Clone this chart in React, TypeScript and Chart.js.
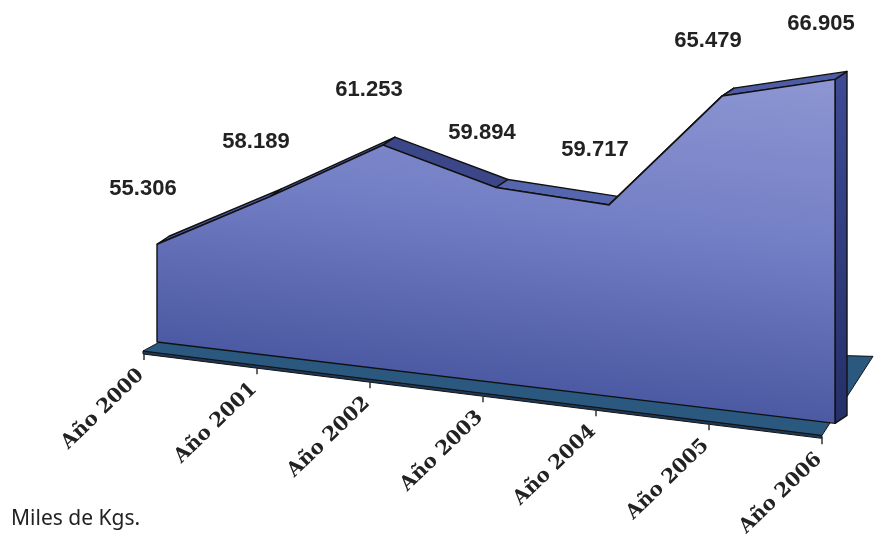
import React, { useEffect, useRef } from "react";
import { Chart, registerables } from "chart.js";

Chart.register(...registerables);

// ---- data ----
const categories = ["Año 2000", "Año 2001", "Año 2002", "Año 2003", "Año 2004", "Año 2005", "Año 2006"];
const production = [55.306, 58.189, 61.253, 59.894, 59.717, 65.479, 66.905];
const valueLabels = ["55.306", "58.189", "61.253", "59.894", "59.717", "65.479", "66.905"];
const unitLabel = "Miles de Kgs.";

// ---- scale / pseudo-3D styling ----
const Y_MIN = 50.7;
const Y_MAX = 67;
const SKEW = 0.12; // perspective tilt of the baseline
const LIFT = -44; // vertical shift applied together with the tilt
const DEPTH_X = 12;
const DEPTH_Y = -8;

const toDrawnY = (left: number, x: number, y: number) => y + SKEW * (x - left) + LIFT;

const pseudo3d = {
  id: "pseudo3d",
  beforeDatasetsDraw(chart: any) {
    const { ctx, chartArea: a } = chart;
    const meta = chart.getDatasetMeta(0);
    const pts = meta.data.map((p: any) => ({ x: p.x, y: p.y }));
    const L = a.left;
    const R = a.right;
    const baseL = toDrawnY(L, L, a.bottom);
    const baseR = toDrawnY(L, R, a.bottom);

    // floor slab
    const FL = { x: L - 14, y: baseL + 9 };
    const FR = { x: R - 13, y: baseR + 12 };
    const BR = { x: R + 38, y: baseR - 67 };
    const BL = { x: L + 10, y: baseL - 4 };
    ctx.save();
    ctx.lineJoin = "round";
    ctx.strokeStyle = "#111";
    ctx.lineWidth = 1;
    ctx.beginPath();
    ctx.moveTo(FL.x, FL.y);
    ctx.lineTo(FR.x, FR.y);
    ctx.lineTo(FR.x, FR.y + 3);
    ctx.lineTo(FL.x, FL.y + 3);
    ctx.closePath();
    ctx.fillStyle = "#1d3757";
    ctx.fill();
    ctx.stroke();
    ctx.beginPath();
    ctx.moveTo(FL.x, FL.y);
    ctx.lineTo(FR.x, FR.y);
    ctx.lineTo(BR.x, BR.y);
    ctx.lineTo(BL.x, BL.y);
    ctx.closePath();
    ctx.fillStyle = "#2b587f";
    ctx.fill();
    ctx.stroke();
    ctx.restore();

    // tilt everything that belongs to the area
    ctx.save();
    ctx.transform(1, SKEW, 0, 1, 0, LIFT - SKEW * L);
    const dx = DEPTH_X;
    const dy = DEPTH_Y - SKEW * DEPTH_X;
    ctx.lineJoin = "round";
    ctx.strokeStyle = "#111";
    ctx.lineWidth = 1.4;

    // right side face
    const last = pts[pts.length - 1];
    const sg = ctx.createLinearGradient(0, last.y, 0, a.bottom);
    sg.addColorStop(0, "#3d4a94");
    sg.addColorStop(1, "#252f68");
    ctx.beginPath();
    ctx.moveTo(last.x, last.y);
    ctx.lineTo(last.x + dx, last.y + dy);
    ctx.lineTo(last.x + dx, a.bottom + dy);
    ctx.lineTo(last.x, a.bottom);
    ctx.closePath();
    ctx.fillStyle = sg;
    ctx.fill();
    ctx.stroke();

    // top bands
    for (let i = 0; i < pts.length - 1; i++) {
      const p = pts[i];
      const q = pts[i + 1];
      const s = (toDrawnY(L, q.x, q.y) - toDrawnY(L, p.x, p.y)) / (q.x - p.x);
      ctx.beginPath();
      ctx.moveTo(p.x, p.y);
      ctx.lineTo(q.x, q.y);
      ctx.lineTo(q.x + dx, q.y + dy);
      ctx.lineTo(p.x + dx, p.y + dy);
      ctx.closePath();
      ctx.fillStyle = s > 0.3 ? "#3c4789" : s > 0 ? "#5666ae" : "#4d5ca4";
      ctx.fill();
      ctx.stroke();
    }
  },
  afterDatasetsDraw(chart: any) {
    const { ctx, chartArea: a } = chart;
    const meta = chart.getDatasetMeta(0);
    const pts = meta.data.map((p: any) => ({ x: p.x, y: p.y }));
    const first = pts[0];
    const last = pts[pts.length - 1];
    // outline of front face
    ctx.strokeStyle = "#111";
    ctx.lineWidth = 1.4;
    ctx.beginPath();
    ctx.moveTo(first.x, first.y);
    ctx.lineTo(first.x, a.bottom);
    ctx.lineTo(last.x, a.bottom);
    ctx.lineTo(last.x, last.y);
    ctx.stroke();
    ctx.restore(); // end of tilt

    const L = a.left;
    const R = a.right;
    const FL = { x: L - 14, y: toDrawnY(L, L, a.bottom) + 9 };
    const FR = { x: R - 13, y: toDrawnY(L, R, a.bottom) + 12 };

    ctx.save();
    // ticks and category labels
    const xScale = chart.scales.x;
    categories.forEach((cat, i) => {
      const px = xScale.getPixelForValue(i);
      const tx = px - 13;
      const ty = FL.y + ((tx - FL.x) * (FR.y - FL.y)) / (FR.x - FL.x) + 2;
      ctx.strokeStyle = "#333";
      ctx.lineWidth = 1.5;
      ctx.beginPath();
      ctx.moveTo(tx, ty);
      ctx.lineTo(tx, ty + 7);
      ctx.stroke();
      ctx.save();
      ctx.translate(tx - 10, ty + 12);
      ctx.rotate((-44 * Math.PI) / 180);
      ctx.font = 'bold 20px "DejaVu Serif"';
      ctx.fillStyle = "#222";
      ctx.textAlign = "right";
      ctx.textBaseline = "top";
      ctx.fillText(cat, 0, 0);
      ctx.restore();
    });

    // value labels
    ctx.font = 'bold 22px "Liberation Sans"';
    ctx.fillStyle = "#222";
    ctx.textAlign = "center";
    ctx.textBaseline = "middle";
    pts.forEach((p: any, i: number) => {
      const y = toDrawnY(L, p.x, p.y);
      ctx.fillText(valueLabels[i], p.x - 14, y - 55);
    });
    ctx.restore();
  },
};

export default function App() {
  const canvasRef = useRef<HTMLCanvasElement | null>(null);

  useEffect(() => {
    document.body.style.margin = "0";
    const canvas = canvasRef.current;
    if (!canvas) return;
    const chart = new Chart(canvas, {
      type: "line",
      data: {
        labels: categories,
        datasets: [
          {
            data: production,
            fill: "start",
            clip: false as any,
            borderColor: "#111",
            borderWidth: 1.5,
            pointRadius: 0,
            tension: 0,
            backgroundColor: (c: any) => {
              const a = c.chart.chartArea;
              if (!a) return "#6b78c0";
              const g = c.chart.ctx.createLinearGradient(0, a.top, 0, a.bottom);
              g.addColorStop(0, "#8e96d2");
              g.addColorStop(0.5, "#737fc5");
              g.addColorStop(1, "#4c5aa3");
              return g;
            },
          },
        ],
      },
      options: {
        animation: false,
        responsive: false,
        maintainAspectRatio: false,
        devicePixelRatio: 1,
        layout: { padding: { left: 157, right: 58, top: 40, bottom: 150 } },
        plugins: { legend: { display: false }, tooltip: { enabled: false } },
        scales: {
          x: { type: "category", display: false, offset: false },
          y: { display: false, min: Y_MIN, max: Y_MAX },
        },
      },
      plugins: [pseudo3d],
    });
    return () => chart.destroy();
  }, []);

  return (
    <div style={{ position: "relative", width: 893, height: 536, background: "#fff" }}>
      <canvas ref={canvasRef} width={893} height={536} style={{ display: "block" }} />
      <div
        style={{
          position: "absolute",
          left: 11,
          top: 503,
          fontFamily: '"Noto Sans", sans-serif',
          fontSize: 21,
          color: "#222",
          whiteSpace: "nowrap",
        }}
      >
        {unitLabel}
      </div>
    </div>
  );
}
